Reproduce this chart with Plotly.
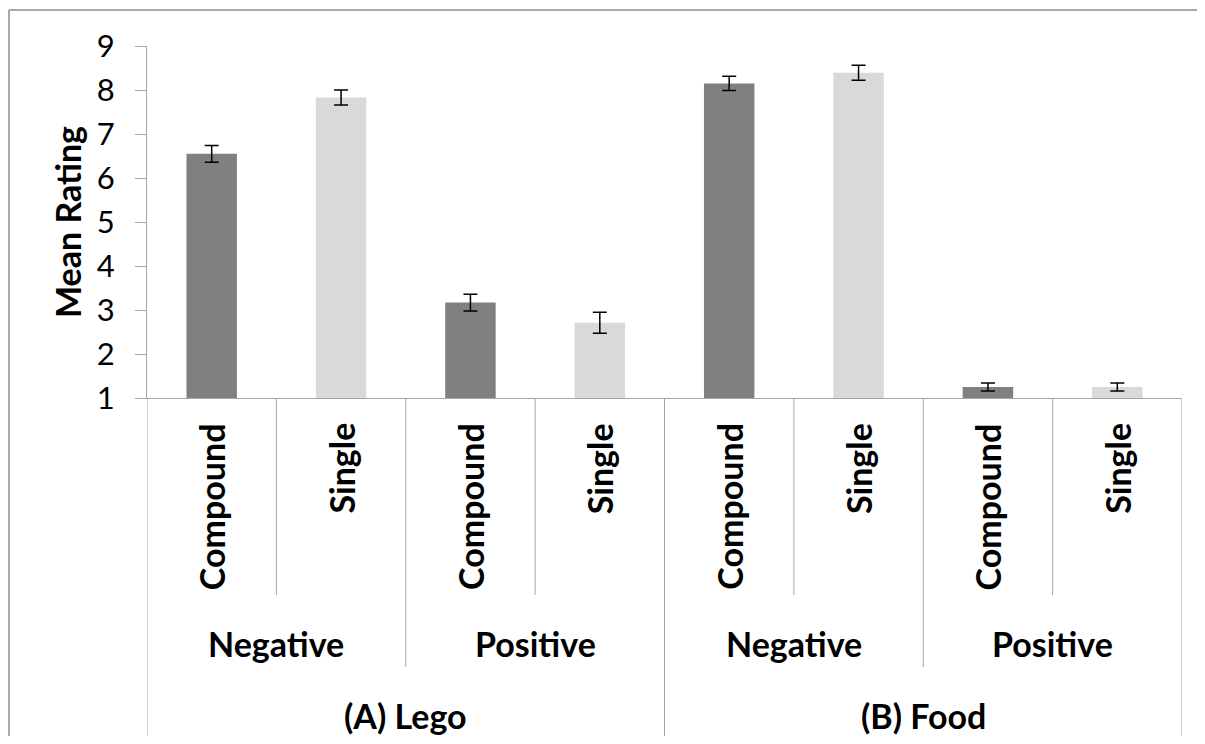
import plotly.graph_objects as go

# ---- data ----
stimulus = ["(A) Lego", "(B) Food"]
valence = ["Negative", "Positive"]
word_type = ["Compound", "Single"]

mean_rating = [6.55, 7.83, 3.17, 2.71, 8.15, 8.39, 1.25, 1.25]
error = [0.19, 0.17, 0.19, 0.24, 0.16, 0.17, 0.09, 0.09]

y_ticks = [1, 2, 3, 4, 5, 6, 7, 8, 9]

# ---- build categories ----
cats, wt_list = [], []
for s in stimulus:
    for v in valence:
        for w in word_type:
            cats.append(f"{s} | {v} | {w}")
            wt_list.append(w)

color_map = {"Compound": "#808080", "Single": "#D9D9D9"}
FONT = "Lato"
BOLD_SIZE = 34

fig = go.Figure()
fig.add_trace(go.Bar(
    x=cats, y=mean_rating,
    marker=dict(color=[color_map[w] for w in wt_list], line=dict(width=0)),
    width=0.39,
    error_y=dict(type="data", array=error, visible=True, color="#000000",
                 thickness=1.5, width=7),
    showlegend=False,
))

# ---- layout (page offset of 8px from body margin) ----
OFF = 8
W, Hfig = 1189, 728
PL, PR, PT, PB = 147, 1182, 46, 398   # plot area in page pixels
L = PL - OFF
T = PT - OFF
R = W - (PR - OFF)
B = Hfig - (PB - OFF)
H = PB - PT
Wp = PR - PL

def py(page_y):
    return (PB - page_y) / H

def px(page_x):
    return (page_x - PL) / Wp

fig.update_layout(
    width=W, height=Hfig,
    margin=dict(l=L, r=R, t=T, b=B),
    paper_bgcolor="white", plot_bgcolor="white",
    font=dict(family=FONT, color="#000000"),
)
fig.update_yaxes(
    range=[1, 9], tickvals=y_ticks, ticks="outside", ticklen=11,
    tickcolor="#A6A6A6", tickwidth=1, showline=True, linecolor="#A6A6A6",
    linewidth=1, showgrid=False, zeroline=False,
    tickfont=dict(family=FONT, size=31, color="#000000"),
    ticklabelstandoff=14,
)
fig.update_xaxes(
    showticklabels=False, ticks="", showline=True, linecolor="#A6A6A6",
    linewidth=1, showgrid=False, range=[-0.5, len(cats) - 0.5],
)

shapes = []
annotations = []
n = len(cats)
# separators
for i in range(n + 1):
    xpos = i - 0.5
    if i % 4 == 0:
        y1 = py(738)
    elif i % 2 == 0:
        y1 = py(667)
    else:
        y1 = py(595)
    shapes.append(dict(type="line", xref="x", yref="paper", x0=xpos, x1=xpos,
                       y0=0, y1=y1, line=dict(color="#A6A6A6", width=1)))

# level 1 labels
for i, w in enumerate(wt_list):
    annotations.append(dict(x=i, y=py(421), xref="x", yref="paper", text=f"<b>{w}</b>",
                            textangle=-90, showarrow=False, xanchor="center", yanchor="top",
                            font=dict(family=FONT, size=BOLD_SIZE, color="#000000")))
# level 2 labels
k = 0
for s in stimulus:
    for v in valence:
        annotations.append(dict(x=2 * k + 0.5, y=py(643), xref="x", yref="paper",
                                text=f"<b>{v}</b>", showarrow=False, xanchor="center",
                                yanchor="middle", font=dict(family=FONT, size=BOLD_SIZE, color="#000000")))
        k += 1
# level 3 labels
for j, s in enumerate(stimulus):
    annotations.append(dict(x=4 * j + 1.5, y=py(715), xref="x", yref="paper",
                            text=f"<b>{s}</b>", showarrow=False, xanchor="center",
                            yanchor="middle", font=dict(family=FONT, size=BOLD_SIZE, color="#000000")))
# y title
annotations.append(dict(x=px(67), y=0.5, xref="paper", yref="paper", text="<b>Mean Rating</b>",
                        textangle=-90, showarrow=False, xanchor="center", yanchor="middle",
                        font=dict(family=FONT, size=BOLD_SIZE, color="#000000")))

# outer chart border: top and left edges (right/bottom fall outside the picture)
frame = dict(color="#8C8C8C", width=1.5)
shapes.append(dict(type="line", xref="paper", yref="paper", x0=px(9), x1=px(1205),
                   y0=py(10), y1=py(10), line=frame, layer="below"))
shapes.append(dict(type="line", xref="paper", yref="paper", x0=px(9), x1=px(9),
                   y0=py(10), y1=py(744), line=frame, layer="below"))

fig.update_layout(shapes=shapes, annotations=annotations)
fig.write_html("out.html")
